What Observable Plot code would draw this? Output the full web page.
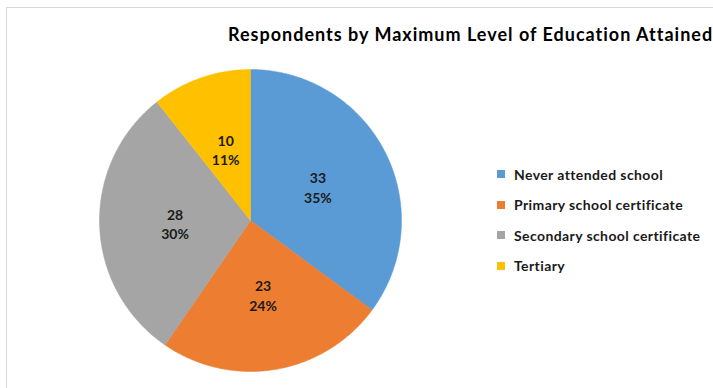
<!DOCTYPE html>
<html><head><meta charset="utf-8">
<script src="https://cdn.jsdelivr.net/npm/d3@7"></script>
<script src="https://cdn.jsdelivr.net/npm/@observablehq/plot@0.6"></script>
<style>
html,body{margin:0;padding:0;background:#fff;}
#wrap{position:relative;width:713px;height:388px;overflow:hidden;font-family:Lato,"Open Sans",sans-serif;color:#000;}
#frame{position:absolute;left:6px;top:7px;width:740px;height:420px;border:1px solid #d9d9d9;box-sizing:border-box;}
#chart{position:absolute;left:0;top:0;}
#title{position:absolute;left:228px;top:23px;font-weight:bold;font-size:18px;letter-spacing:1px;white-space:nowrap;}
#legend{position:absolute;left:497px;top:159px;}
.item{display:flex;align-items:center;height:30.5px;font-size:14px;letter-spacing:0.4px;font-weight:bold;white-space:nowrap;color:#1a1a1a;}
.sw{width:8px;height:8px;margin-right:9px;flex:none;}
</style>
</head><body>
<div id="wrap">
  <div id="frame"></div>
  <div id="chart"></div>
  <div id="title"></div>
  <div id="legend"></div>
</div>
<script>
const title = "Respondents by Maximum Level of Education Attained";
const categories = ["Never attended school", "Primary school certificate", "Secondary school certificate", "Tertiary"];
const counts = [33, 23, 28, 10];
const percentLabels = ["35%", "24%", "30%", "11%"];
const colors = ["#5B9BD5", "#ED7D31", "#A5A5A5", "#FFC000"];

const arcs = d3.pie().sort(null).value(d => d)(counts);

// polygon outlines of each slice in unit-circle space (angle clockwise from top)
const slicePts = [];
arcs.forEach((a, i) => {
  const steps = Math.max(2, Math.ceil((a.endAngle - a.startAngle) / 0.01));
  slicePts.push({cat: categories[i], x: 0, y: 0});
  for (let k = 0; k <= steps; k++) {
    const t = a.startAngle + (a.endAngle - a.startAngle) * k / steps;
    slicePts.push({cat: categories[i], x: Math.sin(t), y: Math.cos(t)});
  }
  slicePts.push({cat: categories[i], x: 0, y: 0});
});

const labelPts = arcs.map((a, i) => {
  const m = (a.startAngle + a.endAngle) / 2;
  return {x: 0.5 * Math.sin(m), y: 0.5 * Math.cos(m), text: counts[i] + "\n" + percentLabels[i]};
});

const chart = Plot.plot({
  width: 713,
  height: 388,
  margin: 0,
  x: {domain: [-1, 1], range: [99, 401], axis: null},
  y: {domain: [-1, 1], range: [371, 69], axis: null},
  color: {domain: categories, range: colors},
  style: {background: "transparent", fontFamily: "Lato, 'Open Sans', sans-serif"},
  marks: [
    Plot.line(slicePts, {x: "x", y: "y", z: "cat", fill: "cat", stroke: "cat", strokeWidth: 0.5, curve: "linear"}),
    Plot.text(labelPts, {x: "x", y: "y", text: "text", fontSize: 14, fontWeight: "bold", lineHeight: 1.4, fill: "#1a1a1a"})
  ]
});
document.getElementById("chart").appendChild(chart);
document.getElementById("title").textContent = title;

const leg = d3.select("#legend");
categories.forEach((c, i) => {
  const it = leg.append("div").attr("class", "item");
  it.append("div").attr("class", "sw").style("background", colors[i]);
  it.append("span").text(c);
});
</script>
</body></html>
